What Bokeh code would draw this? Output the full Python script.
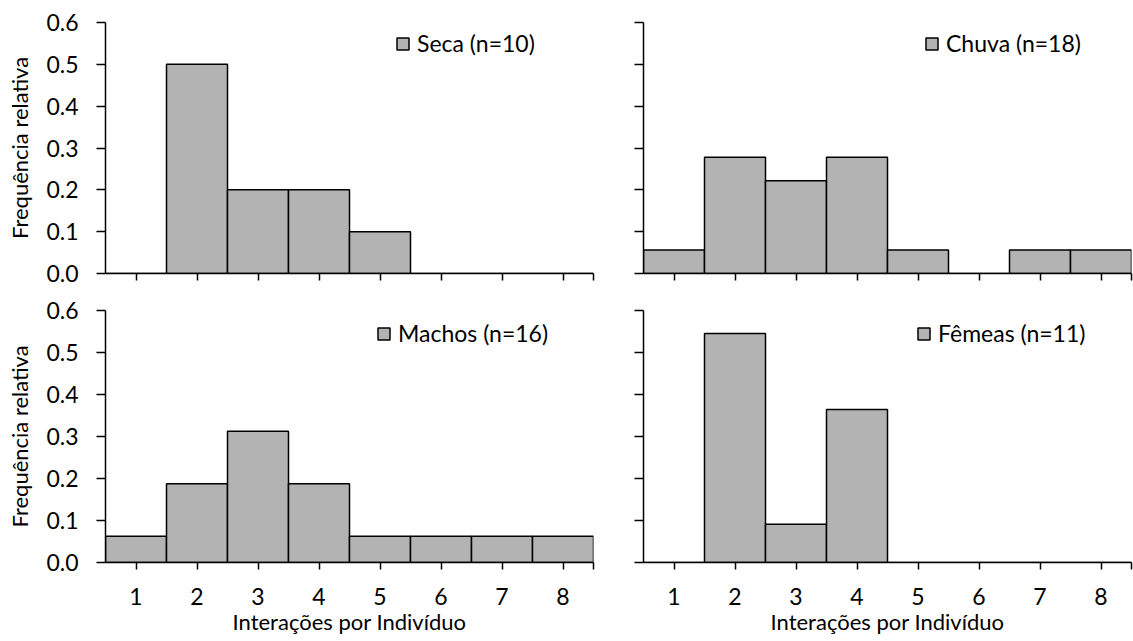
from bokeh.plotting import figure
from bokeh.layouts import column, row
from bokeh.models import ColumnDataSource, Legend, LegendItem, FixedTicker, Range1d
from bokeh.embed import file_html
from bokeh.resources import INLINE

categories = [1, 2, 3, 4, 5, 6, 7, 8]
seca = [0.0, 0.5, 0.2, 0.2, 0.1, 0.0, 0.0, 0.0]
chuva = [0.056, 0.278, 0.222, 0.278, 0.056, 0.0, 0.056, 0.056]
machos = [0.0625, 0.1875, 0.3125, 0.1875, 0.0625, 0.0625, 0.0625, 0.0625]
femeas = [0.0, 0.545, 0.091, 0.364, 0.0, 0.0, 0.0, 0.0]
labels = ["Seca (n=10)", "Chuva (n=18)", "Machos (n=16)", "Fêmeas (n=11)"]
y_ticks = [0.0, 0.1, 0.2, 0.3, 0.4, 0.5, 0.6]
x_title = "Interações por Indivíduo"
y_title = "Frequência relativa"

FONT = "Lato"
FS_TITLE = "22px"
FS_TICK = "23px"
FS_LEG = "23px"
FILL = "#b3b3b3"


def panel(values, label, left, bottom, width, height, bl, br, bt, bb, leg_xy):
    p = figure(width=width, height=height, output_backend="svg", toolbar_location=None,
               x_range=Range1d(0.5, 8.5), y_range=Range1d(0, 0.6),
               min_border_left=bl, min_border_right=br, min_border_top=bt, min_border_bottom=bb,
               outline_line_color=None, background_fill_color="white", border_fill_color="white")
    src = ColumnDataSource(dict(x=categories, top=values))
    r = p.vbar(x="x", top="top", width=1.0, source=src, fill_color=FILL,
               line_color="black", line_width=1.5)
    p.grid.visible = False
    xa = p.xaxis[0]
    xa.ticker = FixedTicker(ticks=categories + [8.5])
    xa.minor_tick_line_color = None
    xa.major_tick_in = 0
    xa.major_tick_out = 7
    xa.axis_line_width = 1.5
    xa.major_tick_line_width = 1.5
    xa.axis_line_color = "black"
    xa.major_tick_line_color = "black"
    if bottom:
        xa.major_label_overrides = {8.5: ""}
        xa.major_label_text_font = FONT
        xa.major_label_text_font_size = FS_TICK
        xa.major_label_text_color = "black"
        xa.major_label_standoff = 18
        xa.axis_label = x_title
        xa.axis_label_text_font = FONT
        xa.axis_label_text_font_size = FS_TITLE
        xa.axis_label_text_font_style = "normal"
        xa.axis_label_text_color = "black"
        xa.axis_label_standoff = 0
    else:
        xa.major_label_overrides = {t: "" for t in categories + [8.5]}
        xa.major_label_text_font_size = "1px"
        xa.major_label_standoff = 0
    ya = p.yaxis[0]
    ya.ticker = FixedTicker(ticks=y_ticks)
    ya.minor_tick_line_color = None
    ya.major_tick_in = 0
    ya.major_tick_out = 9
    ya.axis_line_width = 1.5
    ya.major_tick_line_width = 1.5
    ya.axis_line_color = "black"
    ya.major_tick_line_color = "black"
    if left:
        ya.major_label_text_font = FONT
        ya.major_label_text_font_size = FS_TICK
        ya.major_label_text_color = "black"
        ya.major_label_standoff = 18
        ya.major_label_overrides = {t: f"{t:.1f}" for t in y_ticks}
        ya.axis_label = y_title
        ya.axis_label_text_font = FONT
        ya.axis_label_text_font_size = FS_TITLE
        ya.axis_label_text_font_style = "normal"
        ya.axis_label_text_color = "black"
        ya.axis_label_standoff = 10
    else:
        ya.major_label_overrides = {t: "" for t in y_ticks}
        ya.major_label_text_font_size = "1px"
        ya.major_label_standoff = 0
    leg = Legend(items=[LegendItem(label=label, renderers=[r])], location=leg_xy,
                 glyph_width=15, glyph_height=15, label_height=15, label_standoff=7,
                 label_text_font=FONT, label_text_font_size=FS_LEG, label_text_color="black",
                 padding=0, margin=0, spacing=0, border_line_alpha=0, background_fill_alpha=0)
    p.add_layout(leg, "center")
    return p


# top row: height 291, frame top 22, frame height 251
p1 = panel(seca, labels[0], True, False, 618, 291, 105, 25, 22, 18, (290, 251 - 35))
p2 = panel(chuva, labels[1], False, False, 515, 291, 25, 2, 22, 18, (281, 251 - 35))
# bottom row: height 350, frame top 19 (310 abs), frame height 252
p3 = panel(machos, labels[2], True, True, 618, 350, 105, 25, 19, 79, (271, 252 - 37))
p4 = panel(femeas, labels[3], False, True, 515, 350, 25, 2, 19, 79, (273, 252 - 37))

layout = column(row(p1, p2), row(p3, p4))
open("out.html", "w").write(file_html(layout, INLINE))
